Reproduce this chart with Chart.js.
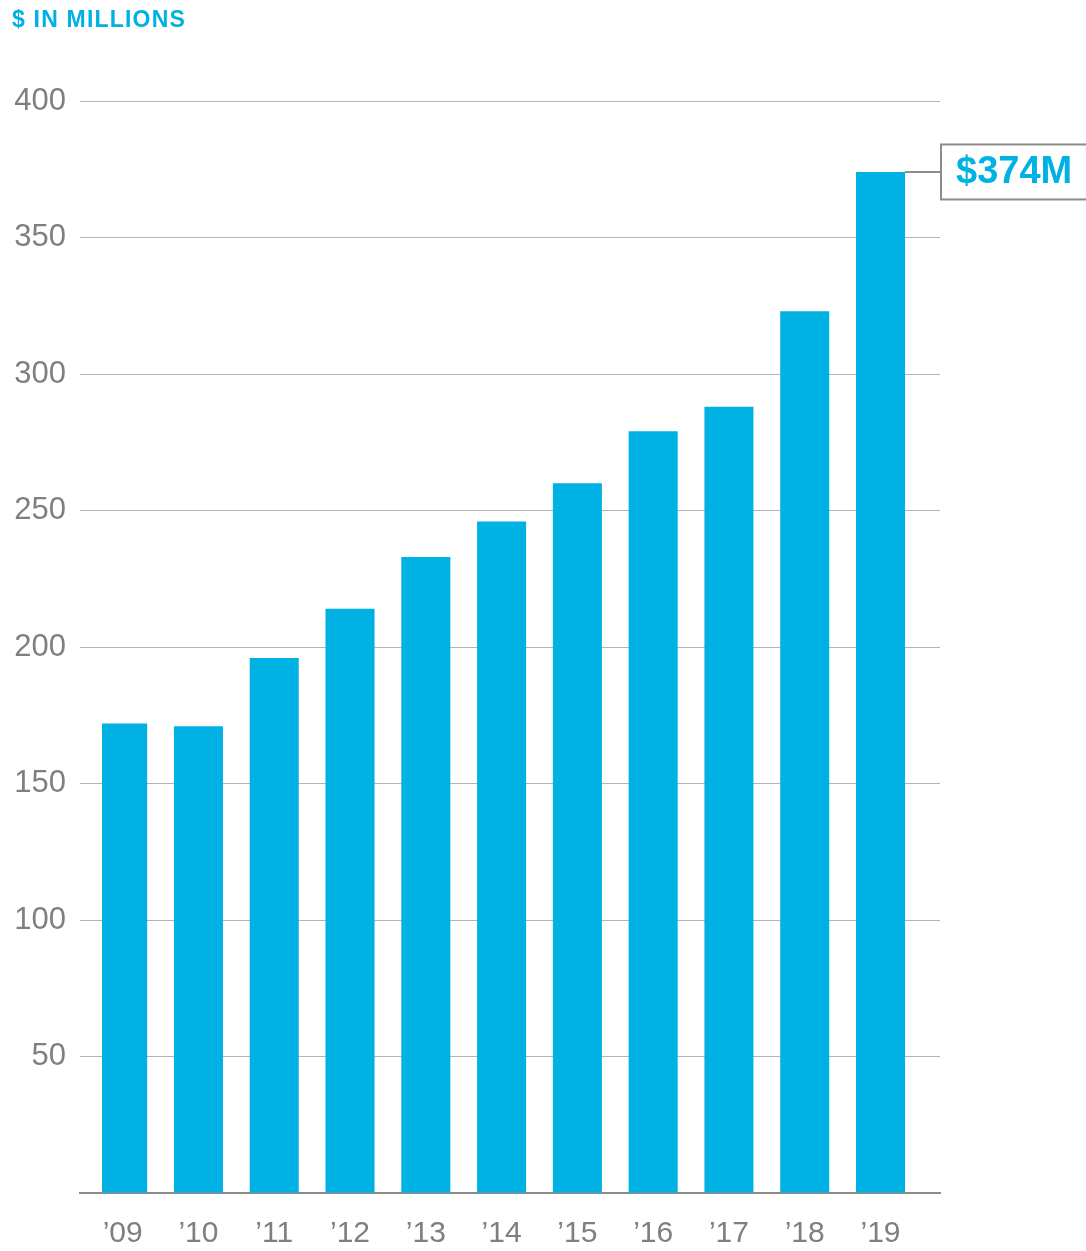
<!DOCTYPE html>
<html>
<head>
<meta charset="utf-8">
<script src="https://cdn.jsdelivr.net/npm/chart.js@4.4.1/dist/chart.umd.min.js"></script>
<style>
  html, body { margin: 0; padding: 0; background: #ffffff; }
  #wrap { position: relative; width: 1086px; height: 1251px; }
</style>
</head>
<body>
<div id="wrap"><canvas id="c" width="1086" height="1251"></canvas></div>
<script>
// ---- data ----
const years = ["\u201909", "\u201910", "\u201911", "\u201912", "\u201913", "\u201914", "\u201915", "\u201916", "\u201917", "\u201918", "\u201919"];
const revenue = [172, 171, 196, 214, 233, 246, 260, 279, 288, 323, 374];
const yTickStep = 50;
const yMax = 400;
const titleText = "$ IN MILLIONS";
const calloutText = "$374M";

const CYAN = "#00b1e4";
const GRAY_TEXT = "#7f7f7f";
const GRID = "#b4b4b4";
const AXIS = "#8c8c8c";
const FONT = "'Liberation Sans', Arial, sans-serif";

const overlay = {
  id: "overlay",
  afterDraw(chart) {
    const ctx = chart.ctx;
    // title
    ctx.save();
    ctx.fillStyle = CYAN;
    ctx.font = "bold 23px " + FONT;
    ctx.textBaseline = "alphabetic";
    ctx.textAlign = "left";
    try { ctx.letterSpacing = "1.2px"; } catch (e) {}
    ctx.fillText(titleText, 12, 27);
    ctx.restore();

    // callout for last bar
    const last = revenue.length - 1;
    const bar = chart.getDatasetMeta(0).data[last];
    const y = chart.scales.y.getPixelForValue(revenue[last]);
    const boxLeft = 941;
    const boxH = 55;
    ctx.save();
    ctx.strokeStyle = AXIS;
    ctx.lineWidth = 2;
    ctx.beginPath();
    ctx.moveTo(bar.x + bar.width / 2, y);
    ctx.lineTo(boxLeft, y);
    ctx.stroke();
    ctx.fillStyle = "#ffffff";
    ctx.fillRect(boxLeft, y - boxH / 2, 200, boxH);
    ctx.strokeRect(boxLeft, y - boxH / 2, 200, boxH);
    ctx.fillStyle = CYAN;
    ctx.font = "bold 38px " + FONT;
    ctx.textBaseline = "middle";
    ctx.textAlign = "left";
    ctx.fillText(calloutText, 956, y + 1);
    ctx.restore();
  }
};

new Chart(document.getElementById("c"), {
  type: "bar",
  data: {
    datasets: [{
      data: revenue.map((v, i) => ({ x: i, y: v })),
      backgroundColor: CYAN,
      borderWidth: 0,
      barPercentage: 0.647,
      categoryPercentage: 1.0,
      clip: { left: -22, top: false, right: false, bottom: false }
    }]
  },
  options: {
    responsive: false,
    animation: false,
    devicePixelRatio: 1,
    layout: { padding: { top: 101, right: 146, left: 0, bottom: 0 } },
    plugins: { legend: { display: false }, tooltip: { enabled: false }, title: { display: false } },
    scales: {
      x: {
        type: "linear",
        offset: false,
        min: -0.563,
        max: 10.785,
        afterBuildTicks(scale) { scale.ticks = years.map((_, i) => ({ value: i })); },
        afterFit(scale) { scale.height = 58; },
        grid: { display: false, drawTicks: false, offset: false },
        border: { display: true, color: AXIS, width: 2 },
        ticks: {
          autoSkip: false,
          maxRotation: 0,
          padding: 23,
          color: GRAY_TEXT,
          font: { family: FONT, size: 30 },
          callback: (v) => years[v] ?? ""
        }
      },
      y: {
        min: 0,
        max: yMax,
        afterFit(scale) { scale.width = 80; },
        grid: { color: GRID, lineWidth: 1, drawTicks: false },
        border: { display: false },
        ticks: {
          stepSize: yTickStep,
          padding: 14,
          color: GRAY_TEXT,
          font: { family: FONT, size: 31 },
          callback: (v) => v === 0 ? "" : v
        }
      }
    }
  },
  plugins: [overlay]
});
</script>
</body>
</html>
